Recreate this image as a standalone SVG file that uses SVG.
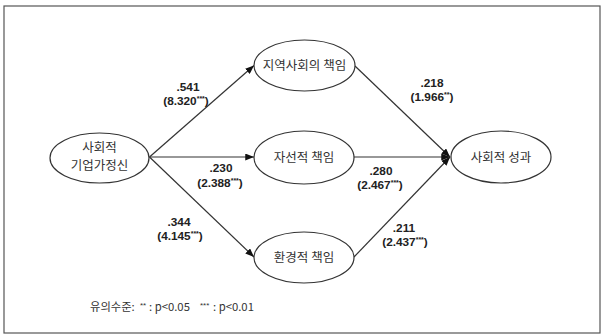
<svg xmlns="http://www.w3.org/2000/svg" width="604" height="336" viewBox="0 0 604 336">
<style>
.node ellipse{fill:#fff;stroke:#333;stroke-width:1.2}
.lbl{font-family:"Noto Sans CJK KR","Noto Sans",sans-serif;font-size:12.5px;fill:#333;text-anchor:middle}
.num{font-family:"Liberation Sans",Arial,sans-serif;font-size:11.8px;font-weight:bold;fill:#222;text-anchor:middle}
.sup{font-size:7px}
.edge{stroke:#333;stroke-width:1.2;fill:none;marker-end:url(#arr)}
.legend{font-family:"Noto Sans CJK KR","Noto Sans",sans-serif;font-size:11.3px;fill:#333}
.lsup{font-family:"Liberation Sans",Arial,sans-serif;font-size:8px;fill:#333}
</style>
<defs>
<marker id="arr" viewBox="0 0 10 8" refX="10" refY="4" markerWidth="9" markerHeight="7" markerUnits="userSpaceOnUse" orient="auto">
<path d="M0,0 L10,4 L0,8 z" fill="#111"/>
</marker>
</defs>
<rect x="4" y="6" width="596" height="327" fill="#fff" stroke="#555" stroke-width="1.2"/>
<g id="connectors">
<path class="edge" d="M149.5,157 L254,65.5"/>
<path class="edge" d="M149.5,157 L254,157"/>
<path class="edge" d="M149.5,157 L254,257"/>
<path class="edge" d="M355,66 L450,157"/>
<path class="edge" d="M354,157 L450,157"/>
<path class="edge" d="M354,257 L450,157"/>
</g>
<g id="labels">
<text class="num" x="188" y="91">.541</text>
<text class="num" x="186" y="105">(8.320<tspan class="sup" dy="-4">***</tspan><tspan dy="4">)</tspan></text>
<text class="num" x="221" y="172">.230</text>
<text class="num" x="220" y="187">(2.388<tspan class="sup" dy="-4">***</tspan><tspan dy="4">)</tspan></text>
<text class="num" x="179" y="226">.344</text>
<text class="num" x="180" y="240">(4.145<tspan class="sup" dy="-4">***</tspan><tspan dy="4">)</tspan></text>
<text class="num" x="432" y="87">.218</text>
<text class="num" x="432" y="101">(1.966<tspan class="sup" dy="-4">**</tspan><tspan dy="4">)</tspan></text>
<text class="num" x="381" y="175">.280</text>
<text class="num" x="380" y="189">(2.467<tspan class="sup" dy="-4">***</tspan><tspan dy="4">)</tspan></text>
<text class="num" x="404" y="232">.211</text>
<text class="num" x="405" y="246">(2.437<tspan class="sup" dy="-4">***</tspan><tspan dy="4">)</tspan></text>
</g>
<g id="n-entre" class="node">
<ellipse cx="99.5" cy="158" rx="49.5" ry="25"/>
<text class="lbl" x="99.5" y="151.5">사회적</text>
<text class="lbl" x="99.5" y="169.5">기업가정신</text>
</g>
<g id="n-community" class="node">
<ellipse cx="304.5" cy="65.5" rx="50.5" ry="25.5"/>
<text class="lbl" x="304.5" y="70">지역사회의 책임</text>
</g>
<g id="n-charity" class="node">
<ellipse cx="304" cy="157.5" rx="50" ry="26.5"/>
<text class="lbl" x="304" y="162">자선적 책임</text>
</g>
<g id="n-env" class="node">
<ellipse cx="304" cy="257.5" rx="50" ry="25.5"/>
<text class="lbl" x="304" y="262">환경적 책임</text>
</g>
<g id="n-outcome" class="node">
<ellipse cx="501" cy="157" rx="50" ry="26"/>
<text class="lbl" x="501" y="161.5">사회적 성과</text>
</g>
<g id="legend">
<text class="legend" x="90" y="311">유의수준:</text>
<text class="lsup" x="140" y="308">**</text>
<text class="legend" x="149" y="311">: p&lt;0.05</text>
<text class="lsup" x="200" y="308">***</text>
<text class="legend" x="213" y="311">: p&lt;0.01</text>
</g>
</svg>
